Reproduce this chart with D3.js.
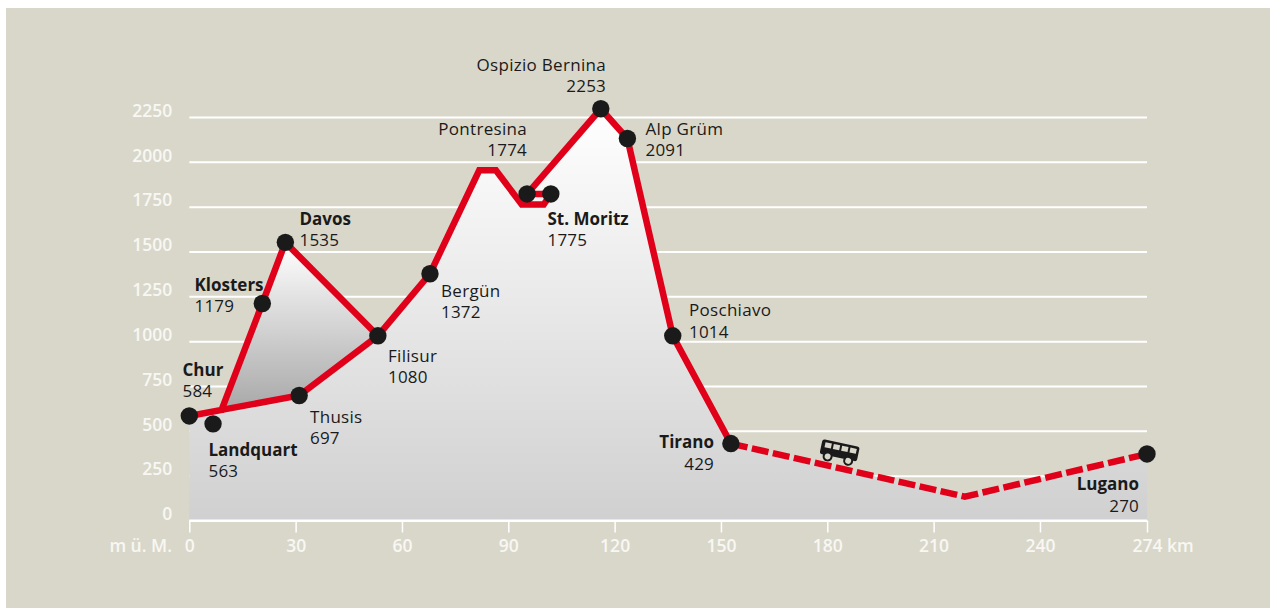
<!DOCTYPE html>
<html>
<head>
<meta charset="utf-8">
<script src="https://cdn.jsdelivr.net/npm/d3@7"></script>
<style>
  html, body { margin: 0; padding: 0; background: #fff; }
  svg { display: block; }
  text { font-family: "Open Sans", sans-serif; }
</style>
</head>
<body>
<script>
// Data
var heightTicks = [0, 250, 500, 750, 1000, 1250, 1500, 1750, 2000, 2250];
var kmTicks = [0, 30, 60, 90, 120, 150, 180, 210, 240, 270.2];
var kmTickLabels = ["0", "30", "60", "90", "120", "150", "180", "210", "240", "274 km"];

var stationNames = ["Chur", "Landquart", "Klosters", "Davos", "Thusis", "Filisur", "Bergün", "Pontresina", "St. Moritz", "Ospizio Bernina", "Alp Grüm", "Poschiavo", "Tirano", "Lugano"];
var stationLabels = ["584", "563", "1179", "1535", "697", "1080", "1372", "1774", "1775", "2253", "2091", "1014", "429", "270"];
var stationKm = [0, 6.7, 20.6, 27.1, 31, 53.2, 67.9, 95.3, 102, 116.1, 123.6, 136.4, 152.8, 270.2];
var stationHeight = [583, 539, 1210, 1551, 697, 1030, 1376, 1821, 1821, 2296, 2130, 1030, 429, 371];
var boldNames = ["Chur", "Landquart", "Klosters", "Davos", "St. Moritz", "Tirano", "Lugano"];

var davosLine = [[0, 583], [9.1, 617], [20.6, 1210], [27.1, 1551], [53.2, 1030]];
var mainLine = [[9.1, 617], [31, 697], [53.2, 1030], [67.9, 1376], [81.8, 1953], [86.5, 1953], [93.8, 1762], [100, 1762], [102, 1821], [95.3, 1821], [116.1, 2296], [123.6, 2130], [136.4, 1030], [152.8, 429]];
var busLine = [[152.8, 429], [218.8, 133], [270.2, 371]];
var profile = [[0, 583], [9.1, 617], [31, 697], [53.2, 1030], [67.9, 1376], [81.8, 1953], [86.5, 1953], [93.8, 1762], [95.3, 1821], [116.1, 2296], [123.6, 2130], [136.4, 1030], [152.8, 429], [218.8, 133], [270.2, 371]];
var davosLoop = [[9.1, 617], [20.6, 1210], [27.1, 1551], [53.2, 1030], [31, 697]];

// label spots in page pixels: anchor x, name baseline, value baseline
var labelSpots = {
    "Chur": [182.5, 376, 397, "start"],
    "Landquart": [208.5, 456, 477, "start"],
    "Klosters": [194.5, 291, 312, "start"],
    "Davos": [299.5, 225, 246, "start"],
    "Thusis": [310, 423, 444, "start"],
    "Filisur": [388, 362, 383, "start"],
    "Bergün": [441, 297, 318, "start"],
    "Pontresina": [527, 135, 156, "end"],
    "St. Moritz": [547.5, 225, 246, "start"],
    "Ospizio Bernina": [606, 71, 92, "end"],
    "Alp Grüm": [645.5, 135, 156, "start"],
    "Poschiavo": [689, 316, 338, "start"],
    "Tirano": [714, 448, 470, "end"],
    "Lugano": [1139, 490, 512, "end"]
};

var w = 1270;
var h = 608;
var bg = "#d9d7ca";
var red = "#e0001a";
var dark = "#1a1a1a";
var axisText = "#f8f7f3";

var xScale = d3.scaleLinear().domain([0, 270.2]).range([189.3, 1147]);
var yScale = d3.scaleLinear().domain([0, 2250]).range([520.5, 117]);

var svg = d3.select("body").append("svg")
    .attr("width", w)
    .attr("height", h);

svg.append("rect")
    .attr("x", 6)
    .attr("y", 8)
    .attr("width", w - 6)
    .attr("height", h - 8)
    .attr("fill", bg);

// Gradients
var defs = svg.append("defs");
var areaGrad = defs.append("linearGradient")
    .attr("id", "areaGrad")
    .attr("x1", 0).attr("y1", 0).attr("x2", 0).attr("y2", 1);
areaGrad.append("stop").attr("offset", "0%").attr("stop-color", "#ffffff");
areaGrad.append("stop").attr("offset", "100%").attr("stop-color", "#d0d0d1");

var loopGrad = defs.append("linearGradient")
    .attr("id", "loopGrad")
    .attr("x1", 0).attr("y1", 0).attr("x2", 0).attr("y2", 1);
loopGrad.append("stop").attr("offset", "0%").attr("stop-color", "#ffffff");
loopGrad.append("stop").attr("offset", "100%").attr("stop-color", "#a8a8a8");

// Axes
var yAxis = d3.axisLeft(yScale)
    .tickValues(heightTicks)
    .tickFormat(d3.format("d"))
    .tickSizeInner(-(xScale(270.2) - xScale(0)))
    .tickSizeOuter(0)
    .tickPadding(17);

var yGroup = svg.append("g")
    .attr("transform", "translate(" + xScale(0) + ",0)")
    .call(yAxis);
yGroup.select(".domain").remove();
yGroup.selectAll("line").attr("stroke", "#fff").attr("stroke-width", 2);
yGroup.selectAll("text")
    .attr("y", -7)
    .attr("dy", "0.36em")
    .attr("fill", axisText)
    .attr("font-size", 17.5)
    .attr("font-weight", 600)
    .style("font-family", "'Open Sans', sans-serif");

var xAxis = d3.axisBottom(xScale)
    .tickValues(kmTicks)
    .tickFormat(function(d, i) { return kmTickLabels[i]; })
    .tickSizeInner(12)
    .tickSizeOuter(0);

var xGroup = svg.append("g")
    .attr("transform", "translate(0," + yScale(0) + ")")
    .call(xAxis);
xGroup.select(".domain").remove();
xGroup.selectAll("line").attr("stroke", "#fff").attr("stroke-width", 1.5);
xGroup.selectAll("text")
    .attr("y", 31.5)
    .attr("dy", 0)
    .attr("fill", axisText)
    .attr("font-size", 17.5)
    .attr("font-weight", 600)
    .style("font-family", "'Open Sans', sans-serif");
// the last tick carries the unit, so its number still sits on the tick
xGroup.selectAll("text")
    .filter(function(d, i) { return i == kmTicks.length - 1; })
    .attr("text-anchor", "start")
    .attr("x", -15);

svg.append("text")
    .attr("x", 172)
    .attr("y", 552)
    .attr("text-anchor", "end")
    .attr("fill", axisText)
    .attr("font-size", 17.5)
    .attr("font-weight", 600)
    .text("m ü. M.");

// Filled profile
var area = d3.area()
    .x(function(d) { return xScale(d[0]); })
    .y0(yScale(0))
    .y1(function(d) { return yScale(d[1]); });

svg.append("path")
    .attr("d", area(profile))
    .attr("fill", "url(#areaGrad)");

var line = d3.line()
    .x(function(d) { return xScale(d[0]); })
    .y(function(d) { return yScale(d[1]); });

svg.append("path")
    .attr("d", line(davosLoop) + "Z")
    .attr("fill", "url(#loopGrad)");

// base line back on top of the fill
svg.append("line")
    .attr("x1", xScale(0))
    .attr("x2", xScale(270.2))
    .attr("y1", yScale(0))
    .attr("y2", yScale(0))
    .attr("stroke", "#fff")
    .attr("stroke-width", 2);

// Route
svg.append("path")
    .attr("d", line(busLine))
    .attr("fill", "none")
    .attr("stroke", red)
    .attr("stroke-width", 6.5)
    .attr("stroke-dasharray", "17,4.5");

[davosLine, mainLine].forEach(function(part) {
    svg.append("path")
        .attr("d", line(part))
        .attr("fill", "none")
        .attr("stroke", red)
        .attr("stroke-width", 6.5);
});

// Stations
svg.selectAll("circle.station")
    .data(stationNames)
    .enter()
    .append("circle")
    .attr("class", "station")
    .attr("cx", function(d, i) { return xScale(stationKm[i]); })
    .attr("cy", function(d, i) { return yScale(stationHeight[i]); })
    .attr("r", 8.7)
    .attr("fill", dark);

stationNames.forEach(function(name, i) {
    var spot = labelSpots[name];
    var isBold = boldNames.indexOf(name) >= 0;
    svg.append("text")
        .attr("x", spot[0])
        .attr("y", spot[1])
        .attr("text-anchor", spot[3])
        .attr("fill", dark)
        .attr("font-size", 17)
        .attr("font-weight", isBold ? 700 : 400)
        .attr("letter-spacing", isBold ? 0 : 0.3)
        .text(name);
    svg.append("text")
        .attr("x", spot[0])
        .attr("y", spot[2])
        .attr("text-anchor", spot[3])
        .attr("fill", dark)
        .attr("font-size", 17)
        .attr("letter-spacing", 0.2)
        .text(stationLabels[i]);
});

// Bus icon above the dashed stretch
var bus = svg.append("g")
    .attr("transform", "translate(" + xScale(183.4) + "," + yScale(383) + ") rotate(12)");
bus.append("rect")
    .attr("x", -19).attr("y", -9)
    .attr("width", 38).attr("height", 15)
    .attr("rx", 2.5)
    .attr("fill", dark);
[-15.5, -7, 1.5, 10].forEach(function(wx) {
    bus.append("rect")
        .attr("x", wx).attr("y", -6.5)
        .attr("width", 6.5).attr("height", 5)
        .attr("fill", bg);
});
[-10.5, 10.5].forEach(function(wx) {
    bus.append("circle")
        .attr("cx", wx).attr("cy", 7)
        .attr("r", 4)
        .attr("fill", bg)
        .attr("stroke", dark)
        .attr("stroke-width", 2);
});
</script>
</body>
</html>
